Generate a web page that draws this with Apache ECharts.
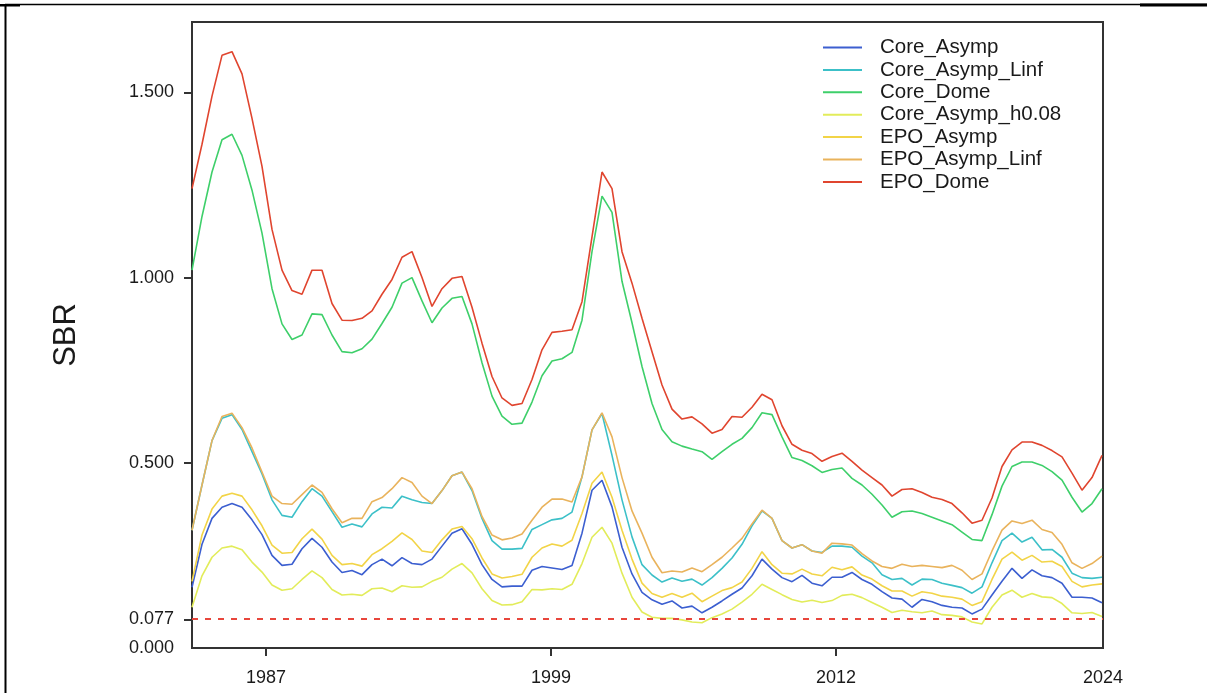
<!DOCTYPE html>
<html>
<head>
<meta charset="utf-8">
<script src="https://cdn.jsdelivr.net/npm/echarts@6/dist/echarts.min.js"></script>
<style>
html,body{margin:0;padding:0;background:#fff;}
#chart{width:1207px;height:693px;}
</style>
</head>
<body>
<div id="chart"></div>
<script>
// time index (one step per sample)
const seriesNames = ['Core_Asymp','Core_Asymp_Linf','Core_Dome','Core_Asymp_h0.08','EPO_Asymp','EPO_Asymp_Linf','EPO_Dome'];
const seriesColors = ['#3c5fd0','#3cc0c8','#3ecf6a','#e2ec5a','#f2d447','#e9b35c','#e0452f'];

const xTickPos = [7.4, 35.9, 64.4, 91.1];
const xTickLabels = ['1987','1999','2012','2024'];
const yTickValues = [0, 0.077, 0.5, 1.0, 1.5];
const refLine = 0.077;

const coreAsymp = [0.164,0.28,0.35,0.38,0.39,0.38,0.346,0.306,0.25,0.223,0.226,0.268,0.296,0.272,0.232,0.204,0.209,0.198,0.225,0.24,0.222,0.244,0.228,0.225,0.24,0.275,0.31,0.322,0.28,0.225,0.185,0.165,0.167,0.167,0.21,0.22,0.216,0.212,0.223,0.31,0.426,0.453,0.381,0.272,0.2,0.15,0.13,0.118,0.127,0.108,0.113,0.095,0.11,0.127,0.145,0.162,0.195,0.24,0.213,0.19,0.179,0.196,0.175,0.168,0.191,0.191,0.204,0.185,0.172,0.152,0.135,0.132,0.11,0.131,0.125,0.115,0.11,0.108,0.092,0.105,0.143,0.18,0.215,0.188,0.211,0.195,0.19,0.175,0.137,0.137,0.135,0.122];
const coreAsympLinf = [0.318,0.44,0.56,0.62,0.63,0.59,0.53,0.47,0.40,0.358,0.353,0.395,0.43,0.41,0.368,0.326,0.335,0.327,0.362,0.38,0.378,0.41,0.40,0.393,0.39,0.425,0.465,0.475,0.425,0.35,0.29,0.267,0.267,0.269,0.32,0.333,0.346,0.35,0.367,0.462,0.589,0.633,0.52,0.40,0.30,0.225,0.197,0.178,0.189,0.18,0.186,0.17,0.19,0.215,0.243,0.28,0.33,0.37,0.35,0.29,0.27,0.279,0.262,0.258,0.275,0.275,0.272,0.248,0.23,0.198,0.185,0.188,0.17,0.186,0.185,0.175,0.169,0.163,0.148,0.165,0.23,0.29,0.31,0.286,0.299,0.265,0.266,0.245,0.202,0.19,0.188,0.191];
const coreDome = [1.02,1.165,1.285,1.372,1.387,1.33,1.236,1.12,0.97,0.875,0.833,0.845,0.902,0.90,0.845,0.80,0.797,0.808,0.834,0.876,0.92,0.985,1.0,0.937,0.878,0.918,0.944,0.949,0.875,0.77,0.68,0.626,0.604,0.607,0.664,0.735,0.775,0.781,0.798,0.885,1.07,1.22,1.176,0.99,0.878,0.76,0.66,0.59,0.557,0.545,0.537,0.53,0.509,0.53,0.55,0.566,0.595,0.635,0.63,0.57,0.514,0.506,0.492,0.474,0.482,0.486,0.458,0.44,0.415,0.386,0.353,0.368,0.37,0.363,0.353,0.343,0.333,0.313,0.293,0.29,0.36,0.437,0.49,0.502,0.502,0.493,0.476,0.453,0.407,0.367,0.39,0.43];
const coreAsympH008 = [0.11,0.195,0.245,0.27,0.275,0.265,0.232,0.205,0.17,0.156,0.16,0.185,0.208,0.19,0.158,0.143,0.145,0.142,0.16,0.162,0.152,0.168,0.164,0.165,0.18,0.191,0.213,0.228,0.203,0.16,0.128,0.116,0.117,0.125,0.158,0.157,0.16,0.158,0.172,0.228,0.299,0.326,0.283,0.202,0.137,0.097,0.083,0.08,0.08,0.076,0.07,0.068,0.082,0.092,0.105,0.124,0.145,0.172,0.158,0.144,0.131,0.124,0.129,0.123,0.128,0.142,0.145,0.136,0.123,0.11,0.096,0.102,0.098,0.095,0.1,0.09,0.088,0.084,0.07,0.065,0.11,0.143,0.156,0.137,0.147,0.138,0.136,0.12,0.095,0.093,0.096,0.085];
const epoAsymp = [0.18,0.305,0.375,0.41,0.418,0.41,0.373,0.33,0.278,0.256,0.258,0.295,0.321,0.294,0.25,0.225,0.228,0.221,0.252,0.268,0.288,0.311,0.293,0.262,0.258,0.292,0.321,0.328,0.295,0.243,0.2,0.189,0.193,0.199,0.245,0.27,0.281,0.275,0.291,0.363,0.445,0.475,0.407,0.318,0.24,0.175,0.147,0.137,0.147,0.137,0.148,0.125,0.14,0.155,0.163,0.178,0.215,0.26,0.225,0.202,0.2,0.213,0.2,0.195,0.218,0.211,0.219,0.197,0.186,0.168,0.154,0.154,0.14,0.152,0.148,0.14,0.137,0.132,0.115,0.125,0.185,0.24,0.259,0.237,0.25,0.232,0.234,0.22,0.18,0.165,0.17,0.173];
const epoAsympLinf = [0.318,0.44,0.56,0.625,0.634,0.595,0.54,0.475,0.41,0.39,0.388,0.414,0.44,0.42,0.376,0.338,0.35,0.35,0.395,0.406,0.43,0.46,0.447,0.41,0.39,0.425,0.465,0.475,0.43,0.355,0.305,0.292,0.297,0.308,0.345,0.38,0.402,0.402,0.394,0.462,0.589,0.635,0.57,0.46,0.37,0.31,0.245,0.203,0.208,0.205,0.216,0.206,0.225,0.245,0.27,0.296,0.335,0.372,0.35,0.29,0.27,0.279,0.262,0.256,0.283,0.281,0.278,0.255,0.235,0.22,0.215,0.226,0.22,0.223,0.22,0.217,0.223,0.21,0.185,0.2,0.262,0.318,0.343,0.336,0.345,0.32,0.312,0.28,0.23,0.215,0.228,0.248];
const epoDome = [1.24,1.36,1.49,1.60,1.61,1.55,1.43,1.30,1.13,1.02,0.965,0.955,1.02,1.02,0.93,0.885,0.884,0.89,0.91,0.955,0.995,1.055,1.07,1.0,0.922,0.97,0.998,1.003,0.92,0.823,0.733,0.675,0.655,0.66,0.725,0.805,0.852,0.855,0.859,0.935,1.11,1.285,1.24,1.07,0.985,0.89,0.80,0.71,0.645,0.618,0.624,0.605,0.58,0.59,0.625,0.623,0.65,0.685,0.67,0.60,0.55,0.534,0.525,0.504,0.517,0.526,0.504,0.48,0.46,0.44,0.41,0.428,0.43,0.42,0.407,0.401,0.39,0.365,0.337,0.345,0.405,0.49,0.535,0.556,0.556,0.547,0.533,0.516,0.472,0.426,0.46,0.52];

const seriesValues = [coreAsymp, coreAsympLinf, coreDome, coreAsympH008, epoAsymp, epoAsympLinf, epoDome];

const FONT = '"Liberation Sans", Arial, sans-serif';
const chart = echarts.init(document.getElementById('chart'), null, {renderer:'canvas'});

const series = seriesNames.map((name, k) => ({
  name: name,
  type: 'line',
  symbol: 'none',
  smooth: false,
  data: seriesValues[k].map((v, i) => [i, v]),
  lineStyle: {color: seriesColors[k], width: 1.6},
  itemStyle: {color: seriesColors[k]},
  z: 3,
  animation: false
}));
series[0].markLine = {
  silent: true,
  symbol: 'none',
  label: {show: false},
  lineStyle: {color: '#e8463c', type: [6, 7], width: 2},
  data: [{yAxis: refLine}],
  animation: false
};

chart.setOption({
  backgroundColor: '#fff',
  animation: false,
  textStyle: {fontFamily: FONT},
  grid: {left: 192, top: 22, width: 911, height: 626, show: true, borderColor: '#333', borderWidth: 2, backgroundColor: 'transparent'},
  legend: {
    orient: 'vertical',
    left: 823, top: 37,
    itemWidth: 39, itemHeight: 2,
    itemGap: 1.4,
    icon: 'rect',
    padding: 0,
    textStyle: {fontFamily: FONT, fontSize: 20.5, color: '#1a1a1a', lineHeight: 20, padding: [0, 0, 0, 13]},
    data: seriesNames
  },
  xAxis: {
    type: 'value', min: 0, max: 91.1,
    axisLine: {show: true, lineStyle: {color: '#333', width: 2}},
    splitLine: {show: false},
    axisTick: {show: true, length: 8, lineStyle: {color: '#333', width: 2}, customValues: xTickPos.slice(0, 3)},
    axisLabel: {
      customValues: xTickPos,
      margin: 21,
      fontSize: 18, color: '#1a1a1a', fontFamily: FONT,
      formatter: function (v) {
        const k = xTickPos.findIndex(p => Math.abs(p - v) < 1e-6);
        return k >= 0 ? xTickLabels[k] : '';
      }
    }
  },
  yAxis: {
    type: 'value', min: 0, max: 1.69,
    name: 'SBR', nameLocation: 'middle', nameGap: 110,
    nameTextStyle: {fontSize: 31, color: '#1a1a1a', fontFamily: FONT},
    axisLine: {show: true, lineStyle: {color: '#333', width: 2}},
    splitLine: {show: false},
    axisTick: {show: true, length: 8, lineStyle: {color: '#333', width: 2}, customValues: yTickValues.slice(1)},
    axisLabel: {
      customValues: yTickValues,
      margin: 18,
      fontSize: 18, color: '#1a1a1a', fontFamily: FONT,
      formatter: v => v.toFixed(3)
    }
  },
  graphic: [
    {type: 'line', shape: {x1: 5, y1: 4.5, x2: 1207, y2: 4.5}, style: {stroke: '#000', lineWidth: 1.5}, silent: true},
    {type: 'line', shape: {x1: 5.5, y1: 4, x2: 5.5, y2: 693}, style: {stroke: '#000', lineWidth: 2}, silent: true},
    {type: 'rect', shape: {x: 0, y: 4, width: 20, height: 2.5}, style: {fill: '#000'}, silent: true},
    {type: 'rect', shape: {x: 1140, y: 3.5, width: 67, height: 3}, style: {fill: '#000'}, silent: true}
  ],
  series: series
});
</script>
</body>
</html>
